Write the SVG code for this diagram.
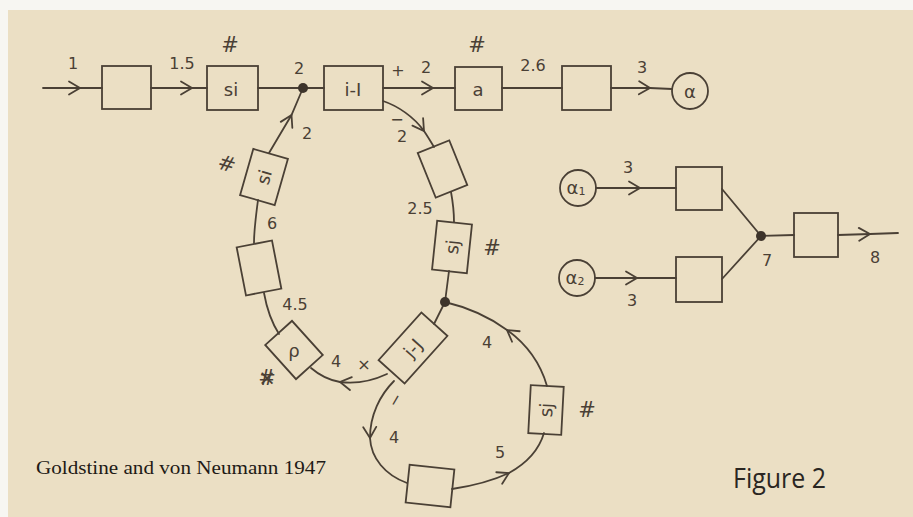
<svg xmlns="http://www.w3.org/2000/svg" width="913" height="517" viewBox="0 0 913 517">
<style>
.bx{fill:none;stroke:#4a4035;stroke-width:1.8}
.ln{fill:none;stroke:#4a4035;stroke-width:1.8;stroke-linecap:round}
.ar{marker-mid:url(#chev)}
.t{font-family:"DejaVu Sans",sans-serif;font-size:16px;fill:#4a4035;text-anchor:middle;dominant-baseline:central}
.b{font-family:"DejaVu Sans",sans-serif;font-size:18px;fill:#4a4035;text-anchor:middle;dominant-baseline:central}
.h{font-family:"DejaVu Sans",sans-serif;font-size:21px;fill:#4a4035;text-anchor:middle;dominant-baseline:central}
.dot{fill:#3d342b}
</style>
<defs>
<marker id="chev" viewBox="-13 -8 15 16" refX="0" refY="0" markerWidth="15" markerHeight="16" markerUnits="userSpaceOnUse" orient="auto">
<path d="M-11,-6.5 L0,0 L-11,6.5" fill="none" stroke="#4a4035" stroke-width="1.8" stroke-linecap="round"/>
</marker>
</defs>
<rect x="0" y="0" width="913" height="517" fill="#f7f6f2"/>
<rect x="8" y="10" width="905" height="507" fill="#ebdfc4"/>

<g id="connectors">
<path class="ln ar" d="M43,88 L80,88 L102,88"/>
<path class="ln ar" d="M151,88 L192,88 L207,88"/>
<path class="ln" d="M258,88 L324,88"/>
<path class="ln ar" d="M383,88 L433,88 L455,88"/>
<path class="ln" d="M502,88 L562,88"/>
<path class="ln ar" d="M611,88 L650,88 L672,89"/>
<path class="ln ar" d="M383,101 C398,106 414,117 424,131 C428,137 431,142 434,147"/>
<path class="ln" d="M451,192 C453,203 454,212 454,222"/>
<path class="ln" d="M449,271 L445,302 L434,324"/>
<path class="ln ar" d="M269,153 L291.5,115 L303,88"/>
<path class="ln" d="M258,200 C256,215 254,230 254,243"/>
<path class="ln" d="M264,293 C267,310 272,323 279,334"/>
<path class="ln ar" d="M387,374 C372,381 355,384 340,382 C328,380 318,374 311,368"/>
<path class="ln ar" d="M394,381 C380,395 370,415 370,438 C371,458 385,475 407,483"/>
<path class="ln ar" d="M452,489 C472,486 492,481 509,473 C527,463 539,450 544,433"/>
<path class="ln ar" d="M547,386 C540,362 525,343 507,330 C488,316 466,307 445,302"/>
<path class="ln ar" d="M596,188 L640,188 L676,188"/>
<path class="ln ar" d="M595,278 L637,278 L676,278"/>
<path class="ln" d="M722,189 L761,236 L722,279"/>
<path class="ln" d="M761,236 L794,235"/>
<path class="ln ar" d="M838,235 L870,234 L898,233"/>
</g>

<g id="dots">
<circle class="dot" cx="303" cy="88" r="5"/>
<circle class="dot" cx="445" cy="302" r="5"/>
<circle class="dot" cx="761" cy="236" r="5"/>
</g>

<g id="n-box1"><rect class="bx" x="102" y="66" width="49" height="43"/></g>
<g id="n-si-top"><rect class="bx" x="207" y="66" width="51" height="44"/><text class="b" x="231" y="89">si</text></g>
<g id="n-iI"><rect class="bx" x="324" y="66" width="59" height="44"/><text class="b" x="353" y="89">i-I</text></g>
<g id="n-a"><rect class="bx" x="455" y="67" width="47" height="43"/><text class="b" x="478" y="89">a</text></g>
<g id="n-box2"><rect class="bx" x="562" y="66" width="49" height="44"/></g>
<g id="n-alpha"><circle class="bx" cx="690" cy="91" r="18"/><text class="b" x="690" y="91">α</text></g>

<g id="n-si-loop" transform="translate(264,177) rotate(16)"><rect class="bx" x="-18" y="-24" width="36" height="48"/><text class="b" transform="rotate(-90)">si</text></g>
<g id="n-box-left" transform="translate(259,268) rotate(-11)"><rect class="bx" x="-18" y="-24.5" width="36" height="49"/></g>
<g id="n-box-right" transform="translate(442.5,169) rotate(-22)"><rect class="bx" x="-17" y="-24" width="34" height="48"/></g>
<g id="n-sj-upper" transform="translate(452,247) rotate(6)"><rect class="bx" x="-17.5" y="-24.5" width="35" height="49"/><text class="b" transform="rotate(-90)">sj</text></g>
<g id="n-q" transform="translate(294,350) rotate(48)"><rect class="bx" x="-23" y="-18" width="46" height="36"/><text class="b" transform="rotate(-48)">ρ</text></g>
<g id="n-jJ" transform="translate(413,348) rotate(-48)"><rect class="bx" x="-32" y="-17.5" width="64" height="35"/><text class="b">j-J</text></g>
<g id="n-sj-lower" transform="translate(546,410) rotate(3)"><rect class="bx" x="-16.5" y="-24" width="33" height="48"/><text class="b" transform="rotate(-90)">sj</text></g>
<g id="n-box-bottom" transform="translate(430,486) rotate(6)"><rect class="bx" x="-22.5" y="-19" width="45" height="38"/></g>

<g id="n-alpha1"><circle class="bx" cx="578" cy="188" r="18"/><text class="b" x="576" y="187">α<tspan font-size="11" dy="4">1</tspan></text></g>
<g id="n-alpha2"><circle class="bx" cx="577" cy="278" r="18"/><text class="b" x="575" y="277">α<tspan font-size="11" dy="4">2</tspan></text></g>
<g id="n-rbox1"><rect class="bx" x="676" y="167" width="46" height="43"/></g>
<g id="n-rbox2"><rect class="bx" x="676" y="257" width="46" height="45"/></g>
<g id="n-rbox3"><rect class="bx" x="794" y="213" width="44" height="44"/></g>

<g id="labels">
<text class="t" x="73" y="63">1</text>
<text class="t" x="182" y="63">1.5</text>
<text class="h" x="230" y="45">#</text>
<text class="t" x="299" y="68">2</text>
<text class="t" x="398" y="70">+</text>
<text class="t" x="426" y="67">2</text>
<text class="h" x="477" y="45">#</text>
<text class="t" x="533" y="65">2.6</text>
<text class="t" x="642" y="67">3</text>
<text class="t" x="397" y="119">−</text>
<text class="t" x="402" y="136">2</text>
<text class="t" x="307" y="133">2</text>
<text class="h" x="227" y="164" transform="rotate(16 227 164)">#</text>
<text class="t" x="420" y="208">2.5</text>
<text class="h" x="492" y="248">#</text>
<text class="t" x="272" y="223">6</text>
<text class="t" x="295" y="304">4.5</text>
<text class="h" x="267" y="378">#</text>
<text class="h" x="267" y="378">×</text>
<text class="t" x="336" y="361">4</text>
<text class="t" x="364" y="364">×</text>
<text class="t" x="487" y="342">4</text>
<text class="h" x="587" y="410">#</text>
<text class="t" x="395" y="400" transform="rotate(-60 395 400)">−</text>
<text class="t" x="394" y="437">4</text>
<text class="t" x="500" y="452">5</text>
<text class="t" x="628" y="167">3</text>
<text class="t" x="632" y="300">3</text>
<text class="t" x="767" y="260">7</text>
<text class="t" x="875" y="257">8</text>
<text x="36" y="474" font-family="'Liberation Serif',serif" font-size="19" fill="#1e1a16" textLength="290" lengthAdjust="spacingAndGlyphs">Goldstine and von Neumann 1947</text>
<text x="733" y="488" font-family="'Open Sans','Liberation Sans',sans-serif" font-size="27" fill="#2a2622" textLength="93" lengthAdjust="spacingAndGlyphs">Figure 2</text>
</g>
</svg>
